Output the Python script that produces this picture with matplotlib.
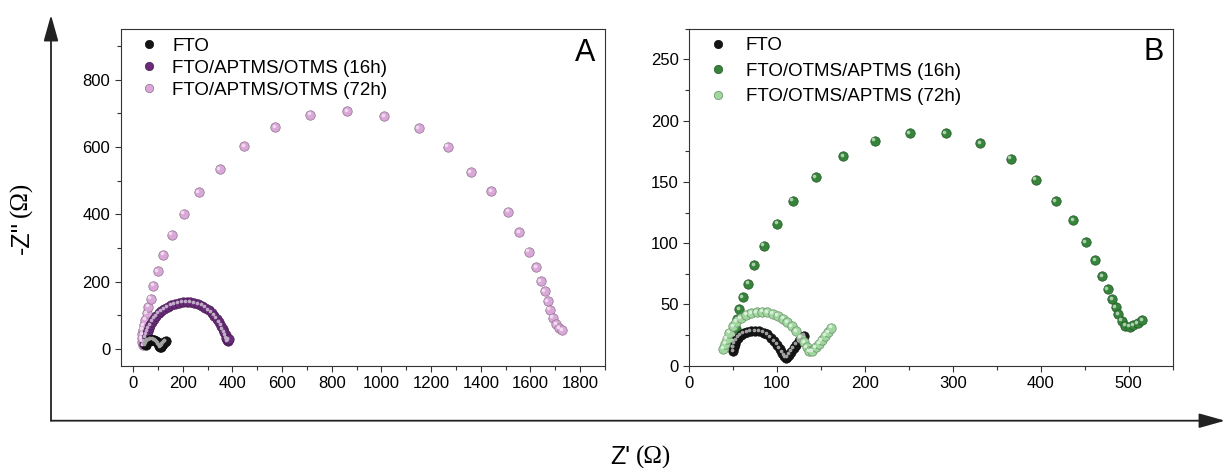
import numpy as np
import matplotlib.pyplot as plt
from matplotlib.colors import to_rgb
from matplotlib.lines import Line2D
from matplotlib.patches import FancyArrowPatch
from matplotlib.ticker import MultipleLocator
from matplotlib.transforms import offset_copy

plt.rcParams['font.family'] = ['Liberation Sans', 'DejaVu Sans']

# Nyquist data, Z' and -Z'' in ohm
fto_re = [50, 51, 52, 54, 56, 59, 62, 66, 70, 75, 80, 85, 89, 93, 97, 100, 103,
          106, 108, 110, 112, 114, 116, 119, 122, 125, 128, 131]
fto_im = [12, 15, 18, 21, 23, 25, 26.5, 27.5, 28, 28.3, 28, 27, 25.5, 23, 20, 17,
          14, 10.5, 8, 6.5, 7, 9, 11.5, 14.5, 17, 20, 22.5, 24.5]

a16_re = [45, 47, 50, 54, 58, 63, 69, 76, 84, 93, 103, 114, 126, 139, 153, 168,
          183, 199, 215, 231, 247, 262, 277, 291, 304, 316, 327, 337, 346, 354,
          361, 367, 372, 376, 379, 381, 383, 385]
a16_im = [15, 24, 34, 44, 54, 63, 72, 81, 90, 98, 106, 113, 119, 125, 130, 134,
          137, 139, 140, 139, 137, 134, 129, 123, 116, 108, 99, 90, 80, 70, 60,
          50, 41, 33, 27, 24, 26, 30]

a72_re = [40, 36, 35, 36, 39, 43, 48, 54, 61, 70, 82, 99, 122, 156, 204, 264,
          348, 448, 572, 714, 862, 1011, 1150, 1267, 1360, 1442, 1511, 1554,
          1593, 1622, 1641, 1657, 1670, 1678, 1689, 1704, 1716, 1728]
a72_im = [12, 22, 33, 45, 58, 72, 88, 106, 126, 150, 188, 232, 281, 340, 402,
          466, 535, 602, 659, 696, 707, 692, 657, 601, 526, 469, 408, 348, 289,
          244, 202, 173, 143, 117, 94, 74, 62, 56]

b16_re = [50, 51, 52, 53, 55, 57, 61, 67, 74, 85, 100, 118, 144, 175, 211, 251,
          292, 331, 366, 394, 417, 437, 451, 462, 470, 476, 481, 485, 488, 492,
          496, 501, 505, 510, 515]
b16_im = [15, 20, 25, 30, 38, 46, 56, 67, 82, 98, 116, 134.5, 153.7, 170.8,
          183.6, 189.8, 189.5, 181.7, 168.9, 151.8, 134, 118.5, 101, 86, 73,
          62.4, 54.2, 47.5, 42, 36.6, 32.5, 31.7, 33, 34.7, 37.1]

b72_re = [39, 41, 43, 46, 50, 54, 59, 65, 71, 77, 83, 89, 95, 101, 107, 112,
          117, 122, 127, 131, 134, 137, 140, 144, 148, 151, 155, 158, 162]
b72_im = [14, 18, 22, 27, 32, 36, 39, 41.5, 43, 43.8, 44, 43.6, 42.5, 40.8,
          38.5, 35.5, 32, 28, 23, 19, 15, 12, 12, 15, 18, 21, 24.5, 27.5, 31]

ticks_a = [0, 200, 400, 600, 800, 1000, 1200, 1400, 1600, 1800]

black = '#151515'
purple_dark = '#6a2c7a'
purple_light = '#d9a8d8'
green_dark = '#35843a'
green_light = '#9fd79f'


def shade(c, f):
    r, g, b = to_rgb(c)
    if f > 0:
        return (r + (1 - r) * f, g + (1 - g) * f, b + (1 - b) * f)
    return (r * (1 + f), g * (1 + f), b * (1 + f))


def balls(ax, x, y, c, s=46):
    # sphere look: dark rim, body, small highlight up-left
    ax.scatter(x, y, s=s, color=c, edgecolors=shade(c, -0.35), linewidths=0.5,
               zorder=3, clip_on=False)
    tr = offset_copy(ax.transData, fig=ax.figure, x=-1.4, y=1.4, units='dots')
    ax.scatter(x, y, s=s * 0.15, color=shade(c, 0.6), linewidths=0,
               transform=tr, zorder=4, clip_on=False)


def style(ax):
    for sp in ax.spines.values():
        sp.set_color('#333333')
        sp.set_linewidth(0.8)
    ax.tick_params(which='both', direction='out', top=False, right=False,
                   color='#333333', width=0.8, labelsize=12, pad=3)
    ax.tick_params(which='major', length=4.5)
    ax.tick_params(which='minor', length=3)


def legend(ax, labels, colors, x0, y0, pad, spacing):
    hs = [Line2D([], [], ls='none', marker='o', markersize=6, color=c,
                 markeredgecolor=shade(c, -0.35), markeredgewidth=0.5,
                 label=l) for l, c in zip(labels, colors)]
    ax.legend(handles=hs, loc='upper left', bbox_to_anchor=(x0, y0),
              frameon=False, fontsize=13.5, borderpad=0, borderaxespad=0,
              handlelength=0.8, handletextpad=pad, labelspacing=spacing)


fig = plt.figure(figsize=(12.26, 4.68), dpi=100)

axA = fig.add_axes([0.09845, 0.21795, 0.39502, 0.71944])
balls(axA, a72_re, a72_im, purple_light)
balls(axA, a16_re, a16_im, purple_dark)
balls(axA, fto_re, fto_im, black)
axA.set_xlim(-50, 1900)
axA.set_ylim(-50, 950)
axA.set_xticks(ticks_a)
axA.xaxis.set_minor_locator(MultipleLocator(100))
axA.yaxis.set_major_locator(MultipleLocator(200))
axA.yaxis.set_minor_locator(MultipleLocator(100))
style(axA)
legend(axA, ['FTO', 'FTO/APTMS/OTMS (16h)', 'FTO/APTMS/OTMS (72h)'],
       [black, purple_dark, purple_light], 0.043, 0.975, 0.85, 0.26)
axA.text(0.9587, 0.93, 'A', transform=axA.transAxes, fontsize=22,
         ha='center', va='center')

axB = fig.add_axes([0.56199, 0.21859, 0.39454, 0.72009])
balls(axB, b16_re, b16_im, green_dark)
balls(axB, fto_re, fto_im, black)
balls(axB, b72_re, b72_im, green_light)
axB.set_xlim(0, 550)
axB.set_ylim(0, 275)
axB.xaxis.set_major_locator(MultipleLocator(100))
axB.xaxis.set_minor_locator(MultipleLocator(50))
axB.yaxis.set_major_locator(MultipleLocator(50))
axB.yaxis.set_minor_locator(MultipleLocator(25))
style(axB)
legend(axB, ['FTO', 'FTO/OTMS/APTMS (16h)', 'FTO/OTMS/APTMS (72h)'],
       [black, green_dark, green_light], 0.0445, 0.975, 1.07, 0.45)
axB.text(0.9613, 0.932, 'B', transform=axB.transAxes, fontsize=22,
         ha='center', va='center')

# shared axis arrows around both panels
ox, oy = 51 / 1226, 1 - 420.7 / 468
for end in [(ox, 1 - 15 / 468), (0.9992, oy)]:
    fig.add_artist(FancyArrowPatch((ox, oy), end, transform=fig.transFigure,
                                   arrowstyle='-|>,head_length=1.6,head_width=0.45',
                                   mutation_scale=10, color='#222222', lw=1.3,
                                   shrinkA=0, shrinkB=0))

fig.text(610 / 1226, 1 - 457 / 468, "Z'", fontsize=18, ha='left', va='center')
fig.text(636 / 1226, 1 - 457 / 468, '(\u03a9)', fontsize=18, ha='left',
         va='center', family='Liberation Serif')
fig.text(21.7 / 1226, 1 - 237 / 468, "-Z''", fontsize=18, rotation=90,
         ha='center', va='center')
fig.text(21.7 / 1226, 1 - 199 / 468, '(\u03a9)', fontsize=18, rotation=90,
         ha='center', va='center', family='Liberation Serif')

fig.savefig('out.png', dpi=100)
